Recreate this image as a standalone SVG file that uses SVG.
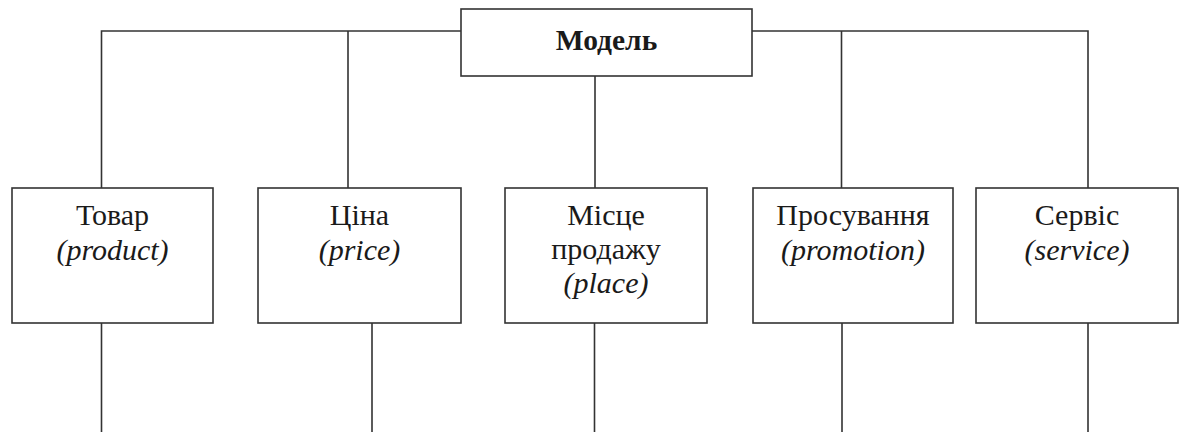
<svg xmlns="http://www.w3.org/2000/svg" width="1180" height="432" viewBox="0 0 1180 432">
<style>
.box{fill:#fff;stroke:#333;stroke-width:1.6}
.ln{fill:none;stroke:#333;stroke-width:1.6}
text{font-family:'Liberation Serif','Tinos','DejaVu Serif',serif;font-size:30px;fill:#1a1a1a;text-anchor:middle}
.it{font-style:italic}
.b{font-weight:bold;font-size:29.5px}
</style>
<rect width="1180" height="432" fill="#fff"/>
<g id="connectors">
<path class="ln" d="M101.5 188V31H461M752 31H1088V188M348 31V188M841.5 31V188M595 76V188"/>
<path class="ln" d="M101.5 323V432M372 323V432M594.5 323V432M842 323V432M1088 323V432"/>
</g>
<g id="model">
<rect class="box" x="461" y="9" width="291" height="67"/>
<text class="b" x="606.5" y="50">Модель</text>
</g>
<g id="product">
<rect class="box" x="12" y="188" width="201" height="135"/>
<text x="112.5" y="225">Товар</text>
<text class="it" x="112.5" y="260">(product)</text>
</g>
<g id="price">
<rect class="box" x="258" y="188" width="203" height="135"/>
<text x="359.5" y="225">Ціна</text>
<text class="it" x="359.5" y="260">(price)</text>
</g>
<g id="place">
<rect class="box" x="505" y="188" width="202" height="135"/>
<text x="606" y="225">Місце</text>
<text x="606" y="259">продажу</text>
<text class="it" x="606" y="293">(place)</text>
</g>
<g id="promotion">
<rect class="box" x="753" y="188" width="200" height="135"/>
<text x="853" y="225">Просування</text>
<text class="it" x="853" y="260">(promotion)</text>
</g>
<g id="service">
<rect class="box" x="976" y="188" width="202" height="135"/>
<text x="1077" y="225">Сервіс</text>
<text class="it" x="1077" y="260">(service)</text>
</g>
</svg>
